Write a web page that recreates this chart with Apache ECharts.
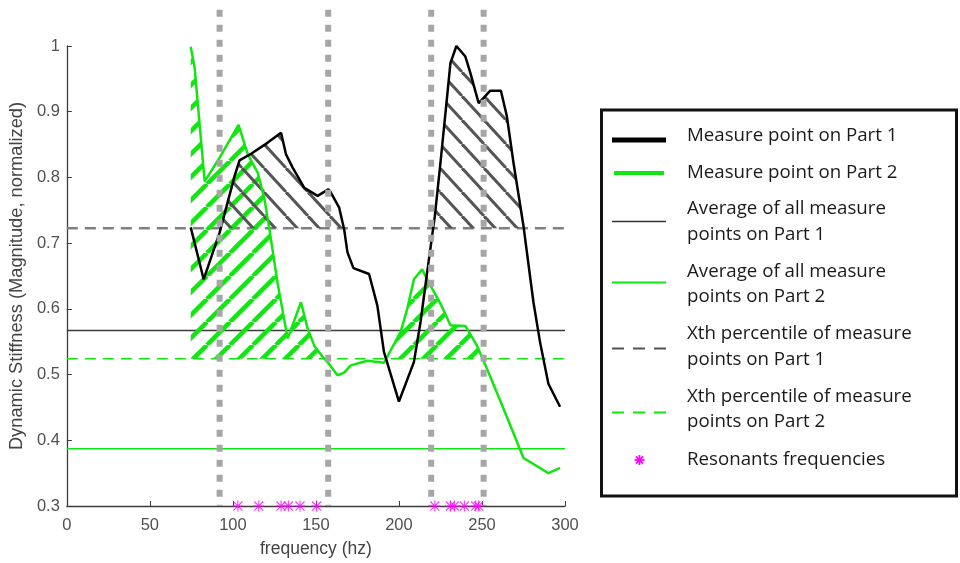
<!DOCTYPE html>
<html>
<head>
<meta charset="utf-8">
<script src="https://cdn.jsdelivr.net/npm/echarts@6/dist/echarts.min.js"></script>
<style>
  html, body { margin: 0; padding: 0; background: #ffffff; }
  #chart { width: 960px; height: 563px; }
</style>
</head>
<body>
<div id="chart"></div>
<script>
// ---------------- data ----------------
const freqPart1 = [74.6, 82.4, 92, 101, 104, 111, 121, 129, 132, 136, 143, 151, 155, 157.5, 159, 164, 167, 169, 172.6, 182, 187, 191, 200, 209, 213, 217, 221.6, 225, 229, 231, 234.6, 240, 243, 248, 251, 255, 261.4, 265, 269, 275, 281, 285, 290, 297];
const valPart1  = [0.724, 0.645, 0.716, 0.802, 0.826, 0.836, 0.853, 0.868, 0.835, 0.815, 0.784, 0.772, 0.778, 0.782, 0.777, 0.754, 0.721, 0.686, 0.662, 0.653, 0.605, 0.534, 0.459, 0.519, 0.58, 0.656, 0.741, 0.822, 0.923, 0.974, 1.0, 0.984, 0.959, 0.913, 0.921, 0.932, 0.932, 0.893, 0.822, 0.726, 0.61, 0.549, 0.486, 0.451];

const freqPart2 = [74.6, 77, 83, 92, 103.4, 109, 115, 119, 122, 127, 133, 141, 145, 149, 154, 157, 163, 167, 171, 181, 191, 201, 205, 209, 214, 218, 225, 231, 240, 247, 253, 263, 275, 290, 297];
const valPart2  = [0.999, 0.966, 0.794, 0.83, 0.88, 0.835, 0.807, 0.767, 0.721, 0.638, 0.555, 0.61, 0.57, 0.544, 0.527, 0.519, 0.499, 0.503, 0.514, 0.521, 0.518, 0.565, 0.6, 0.645, 0.66, 0.64, 0.608, 0.575, 0.574, 0.544, 0.509, 0.448, 0.373, 0.35, 0.358];

const avgPart1 = 0.567;
const avgPart2 = 0.387;
const pctPart1 = 0.7227;
const pctPart2 = 0.524;

const bandFreqs = [92, 157.4, 219.4, 251];
const bandSpan = [0.3, 1.055];

const resonantFreqs = [103.0, 115.6, 129.0, 133.4, 140.4, 150.4, 221.6, 231.0, 233.4, 239.4, 246.2, 248.0];
const resonantLevel = 0.3;

const xRange = [0, 300];
const yRange = [0.3, 1];
const xTicks = 50;
const yTicks = 0.1;

const legendLabels = [
  ['Measure point on Part 1'],
  ['Measure point on Part 2'],
  ['Average of all measure', 'points on Part 1'],
  ['Average of all measure', 'points on Part 2'],
  ['Xth percentile of measure', 'points on Part 1'],
  ['Xth percentile of measure', 'points on Part 2'],
  ['Resonants frequencies']
];

// ---------------- helpers ----------------
const GREEN = '#10e610';
const MAGENTA = '#ff00ff';

function pairs(xs, ys) { return xs.map((x, i) => [x, ys[i]]); }

function clipAbove(xs, ys, thr) {
  const out = [];
  for (let i = 0; i < xs.length; i++) {
    if (i > 0) {
      const y0 = ys[i - 1], y1 = ys[i];
      if ((y0 - thr) * (y1 - thr) < 0) {
        const xc = xs[i - 1] + (thr - y0) * (xs[i] - xs[i - 1]) / (y1 - y0);
        out.push([xc, thr]);
      }
    }
    out.push([xs[i], Math.max(ys[i], thr)]);
  }
  return out;
}

function makeHatch(w, h, color, width, dir) {
  const c = document.createElement('canvas');
  c.width = w; c.height = h;
  const g = c.getContext('2d');
  g.strokeStyle = color; g.lineWidth = width; g.lineCap = 'butt';
  for (let k = -1; k <= 1; k++) {
    g.beginPath();
    if (dir === '/') { g.moveTo(k * w, h); g.lineTo(k * w + w, 0); }
    else { g.moveTo(k * w, 0); g.lineTo(k * w + w, h); }
    g.stroke();
  }
  return c;
}

const asteriskPath = 'path://M9 0h2v9h9v2h-9v9h-2v-9h-9v-2h9z M2.5 1.1L10 8.6L17.5 1.1L18.9 2.5L11.4 10L18.9 17.5L17.5 18.9L10 11.4L2.5 18.9L1.1 17.5L8.6 10L1.1 2.5Z';

const chart = echarts.init(document.getElementById('chart'), null, { renderer: 'canvas' });

const hLine = (y, color, width, type, z) => ({
  type: 'line', data: [[xRange[0], y], [xRange[1], y]], symbol: 'none', silent: true,
  lineStyle: { color: color, width: width, type: type }, z: z
});

const series = [];
series.push(hLine(avgPart1, '#3a3a3a', 1.5, 'solid', 2));
series.push(hLine(avgPart2, GREEN, 1.5, 'solid', 2));
series.push(hLine(pctPart1, '#808080', 2.5, [11, 7], 2));
series.push(hLine(pctPart2, GREEN, 1.5, [11, 7], 2));

series.push({
  type: 'line', data: clipAbove(freqPart2, valPart2, pctPart2), symbol: 'none', silent: true,
  lineStyle: { width: 0, opacity: 0 },
  areaStyle: { origin: pctPart2, opacity: 1, color: { image: makeHatch(23, 23, GREEN, 4.5, '/'), repeat: 'repeat' } },
  z: 3
});
series.push({
  type: 'line', data: clipAbove(freqPart1, valPart1, pctPart1), symbol: 'none', silent: true,
  lineStyle: { width: 0, opacity: 0 },
  areaStyle: { origin: pctPart1, opacity: 1, color: { image: makeHatch(22, 24, '#555555', 3, '\\'), repeat: 'repeat' } },
  z: 4
});

series.push({
  type: 'line', data: pairs(freqPart2, valPart2), symbol: 'none', silent: true,
  lineStyle: { color: GREEN, width: 2.5 }, z: 5
});
series.push({
  type: 'line', data: pairs(freqPart1, valPart1), symbol: 'none', silent: true,
  lineStyle: { color: '#000000', width: 2.5 }, z: 6
});

bandFreqs.forEach(f => {
  series.push({
    type: 'line', data: [[f, bandSpan[1]], [f, bandSpan[0]]], symbol: 'none', silent: true, clip: false,
    lineStyle: { color: '#a6a6a6', width: 6, type: [7, 8] }, z: 7
  });
});

series.push({
  type: 'scatter', data: resonantFreqs.map(f => [f, resonantLevel]), symbol: asteriskPath, symbolSize: 11,
  itemStyle: { color: MAGENTA }, clip: false, silent: true, z: 8
});

// ---------------- legend (graphic) ----------------
const lx = 687;
const textRows = [[136], [172.7], [208.5, 235], [271.7, 296.7], [333.7, 360], [397, 421.7], [459.3]];
const graphics = [
  { type: 'rect', shape: { x: 601.5, y: 110, width: 355, height: 386 }, style: { fill: '#ffffff', stroke: '#111111', lineWidth: 3 }, z: 100 },
  { type: 'line', shape: { x1: 612, y1: 140, x2: 666, y2: 140 }, style: { stroke: '#000000', lineWidth: 5 }, z: 101 },
  { type: 'line', shape: { x1: 614, y1: 173, x2: 664, y2: 173 }, style: { stroke: GREEN, lineWidth: 4 }, z: 101 },
  { type: 'line', shape: { x1: 612, y1: 221.5, x2: 666, y2: 221.5 }, style: { stroke: '#333333', lineWidth: 1.5 }, z: 101 },
  { type: 'line', shape: { x1: 612, y1: 282.5, x2: 666, y2: 282.5 }, style: { stroke: GREEN, lineWidth: 2 }, z: 101 },
  { type: 'line', shape: { x1: 612, y1: 348.5, x2: 666, y2: 348.5 }, style: { stroke: '#555555', lineWidth: 2, lineDash: [12, 9] }, z: 101 },
  { type: 'line', shape: { x1: 612, y1: 412.5, x2: 666, y2: 412.5 }, style: { stroke: GREEN, lineWidth: 2, lineDash: [12, 9] }, z: 101 }
];
// legend asterisk made of four short strokes
const ac = [639.5, 460], ar = 5;
[[1, 0], [0, 1], [0.707, 0.707], [0.707, -0.707]].forEach(d => {
  graphics.push({ type: 'line', shape: { x1: ac[0] - d[0] * ar, y1: ac[1] - d[1] * ar, x2: ac[0] + d[0] * ar, y2: ac[1] + d[1] * ar }, style: { stroke: MAGENTA, lineWidth: 1.8 }, z: 101 });
});
legendLabels.forEach((rows, i) => {
  rows.forEach((t, j) => {
    graphics.push({
      type: 'text', x: lx, y: textRows[i][j], z: 101,
      style: { text: t, fill: '#1a1a1a', font: '18.7px "Open Sans"', verticalAlign: 'middle', align: 'left' }
    });
  });
});

const axisLabelStyle = { color: '#505050', fontSize: 16.5, fontFamily: 'Liberation Sans' };

chart.setOption({
  animation: false,
  backgroundColor: '#ffffff',
  grid: { left: 65, top: 46, width: 500, height: 462, containLabel: false },
  xAxis: {
    type: 'value', min: xRange[0], max: xRange[1], interval: xTicks,
    name: 'frequency (hz)', nameLocation: 'middle', nameGap: 34,
    nameTextStyle: { color: '#444444', fontSize: 17.5, fontFamily: 'Liberation Sans' },
    axisLine: { show: true, onZero: false, lineStyle: { color: '#3c3c3c', width: 1.3 } },
    axisTick: { show: true, inside: true, length: 5, lineStyle: { color: '#3c3c3c' } },
    axisLabel: Object.assign({ margin: 11 }, axisLabelStyle),
    splitLine: { show: false }
  },
  yAxis: {
    type: 'value', min: yRange[0], max: yRange[1], interval: yTicks,
    name: 'Dynamic Stiffness (Magnitude, normalized)', nameLocation: 'middle', nameGap: 36, nameRotate: 90,
    nameTextStyle: { color: '#444444', fontSize: 18.3, fontFamily: 'Liberation Sans' },
    axisLine: { show: true, onZero: false, lineStyle: { color: '#3c3c3c', width: 1.3 } },
    axisTick: { show: true, inside: true, length: 5, lineStyle: { color: '#3c3c3c' } },
    axisLabel: Object.assign({ margin: 7, formatter: v => String(Math.round(v * 10) / 10) }, axisLabelStyle),
    splitLine: { show: false }
  },
  series: series,
  graphic: graphics
});
</script>
</body>
</html>
